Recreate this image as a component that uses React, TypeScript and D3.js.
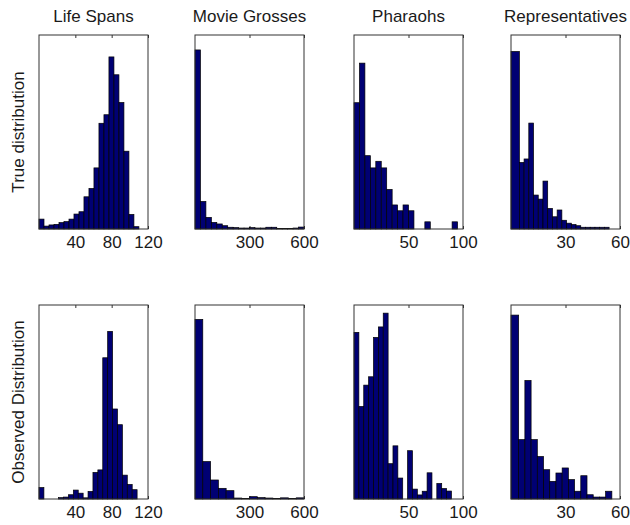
import React, { useEffect, useRef } from 'react';
import * as d3 from 'd3';

const titles = ['Life Spans', 'Movie Grosses', 'Pharaohs', 'Representatives'];
const rowLabels = ['True distribution', 'Observed Distribution'];
const xMax = [120, 600, 100, 60];
const xTicks = [[40, 80, 120], [300, 600], [50, 100], [30, 60]];

// [first bin edge, bin width] for each column
const trueBins = [[0, 5.5], [0, 30], [0, 5], [2, 2.6]];
const observedBins = [[0, 5.4], [0, 42.86], [0, 4.47], [0.8, 3.42]];

// bar heights, read as % of each panel's y range (no y ticks in the original)
const lifeTrue = [5.1, 1.5, 2.1, 2.4, 3.3, 3.8, 5.1, 7.7, 8.9, 16.6, 20.9, 31.5, 54.5, 58.9, 88.7, 79.5, 65.2, 40.1, 7.5, 1.2];
const movieTrue = [92.3, 14.2, 6.0, 3.4, 2.6, 1.7, 0.9, 0.7, 0.5, 0.5, 0.7, 0.5, 0.5, 0.9, 0.9, 0.3, 0.3, 0.3, 0.5, 1.0];
const pharaohTrue = [65.1, 85.5, 37.8, 31.5, 34.9, 31.5, 20.4, 12.4, 9.4, 12.4, 9.4, 0, 0, 3.7, 0, 0, 0, 0, 3.7, 0];
const repTrue = [91.5, 34.3, 36.1, 54.6, 17.5, 15.4, 24.7, 10.6, 6.3, 9.8, 4.5, 3.0, 2.3, 1.7, 0.9, 0.9, 0.9, 0.9, 0.9, 0.9];

const lifeObserved = [5.9, 0, 0, 0, 0.7, 1.0, 2.2, 4.6, 3.0, 0.6, 3.9, 13.7, 15.0, 72.8, 86.4, 46.4, 38.3, 12.3, 7.5, 4.8];
const movieObserved = [92.6, 19.3, 9.8, 5.5, 4.3, 0.5, 0.3, 1.2, 0.7, 0.5, 0.3, 0.6, 0.3, 0.6];
const pharaohObserved = [85.9, 47.7, 58.7, 63.0, 83.3, 88.7, 95.8, 18.2, 27.4, 10.8, 0, 24.9, 5.1, 2.1, 4.0, 13.5, 0, 8.0, 5.4, 4.1];
const repObserved = [94.8, 30.6, 61.1, 30.6, 21.9, 15.1, 9.1, 13.4, 16.0, 10.0, 4.0, 12.0, 2.2, 1.0, 1.0, 4.0];

const rows = [
  { label: rowLabels[0], bins: trueBins, counts: [lifeTrue, movieTrue, pharaohTrue, repTrue] },
  { label: rowLabels[1], bins: observedBins, counts: [lifeObserved, movieObserved, pharaohObserved, repObserved] },
];

export default function App() {
  const ref = useRef<SVGSVGElement>(null);

  useEffect(() => {
    const width = 630;
    const height = 525;
    const colLeft = [39, 195, 354, 511];
    const boxW = 109;
    const rowTop = [35, 305];
    const boxH = 194;
    const font = '"Liberation Sans", Arial, sans-serif';

    const svg = d3.select(ref.current);
    svg.selectAll('*').remove();
    svg.attr('width', width).attr('height', height);
    svg.append('rect').attr('width', width).attr('height', height).attr('fill', '#fff');

    rows.forEach((row, r) => {
      const top = rowTop[r];

      svg.append('text')
        .attr('transform', 'translate(24,' + (top + boxH / 2) + ') rotate(-90)')
        .attr('text-anchor', 'middle')
        .attr('font-family', font)
        .attr('font-size', 17)
        .attr('fill', '#1a1a1a')
        .text(row.label);

      row.counts.forEach((counts, c) => {
        const left = colLeft[c];
        const x = d3.scaleLinear().domain([0, xMax[c]]).range([left, left + boxW]);
        const y = d3.scaleLinear().domain([0, 100]).range([top + boxH, top]);
        const [lo, w] = row.bins[c];

        const g = svg.append('g');

        // inside ticks, top and bottom (under the bars like matlab)
        g.append('g')
          .attr('transform', 'translate(0,' + top + ')')
          .call(d3.axisTop(x).tickValues(xTicks[c]).tickSize(-3).tickFormat(() => ''))
          .call(a => a.select('.domain').remove())
          .call(a => a.selectAll('line').attr('stroke', '#333'));

        g.append('g')
          .attr('transform', 'translate(0,' + (top + boxH) + ')')
          .call(d3.axisBottom(x).tickValues(xTicks[c]).tickSize(-3).tickPadding(7).tickFormat(d3.format('d')))
          .call(a => a.select('.domain').remove())
          .call(a => a.selectAll('line').attr('stroke', '#333'))
          .call(a => a.selectAll('text')
            .attr('font-family', font)
            .attr('font-size', 17)
            .attr('fill', '#1a1a1a'));

        g.append('g')
          .selectAll('rect')
          .data(counts)
          .join('rect')
          .attr('x', (d, i) => x(i === 0 ? 0 : lo + i * w))
          .attr('width', (d, i) => x(lo + (i + 1) * w) - x(i === 0 ? 0 : lo + i * w))
          .attr('y', d => y(d))
          .attr('height', d => y(0) - y(d))
          .attr('fill', '#000073')
          .attr('stroke', '#000')
          .attr('stroke-width', 0.7);

        g.append('rect')
          .attr('x', left)
          .attr('y', top)
          .attr('width', boxW)
          .attr('height', boxH)
          .attr('fill', 'none')
          .attr('stroke', '#333')
          .attr('stroke-width', 1);

        if (r === 0) {
          svg.append('text')
            .attr('x', left + boxW / 2)
            .attr('y', 22)
            .attr('text-anchor', 'middle')
            .attr('font-family', font)
            .attr('font-size', 17)
            .attr('fill', '#1a1a1a')
            .text(titles[c]);
        }
      });
    });
  }, []);

  return (
    <div style={{ position: 'absolute', left: 0, top: 0 }}>
      <svg ref={ref} style={{ display: 'block' }} />
    </div>
  );
}
